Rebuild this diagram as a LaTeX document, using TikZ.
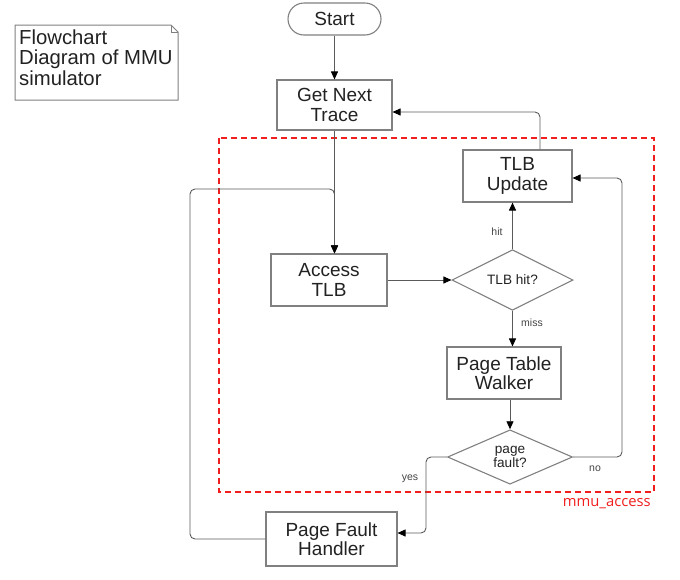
\documentclass[tikz,border=0pt]{standalone}
\usepackage{fontspec}
\setmainfont{Liberation Sans}
\newfontfamily\mmufont{Open Sans}
\usetikzlibrary{shapes.geometric,arrows.meta,calc}
\definecolor{boxgray}{HTML}{808080}
\definecolor{linegray}{HTML}{5A5A5A}
\definecolor{textdark}{HTML}{222222}
\definecolor{lblgray}{HTML}{444444}
\definecolor{mmured}{HTML}{F01E1E}
\begin{document}
\begin{tikzpicture}[x=1pt,y=-1pt,
  box/.style={draw=boxgray, line width=1.1pt, fill=white, align=center, inner sep=0pt,
    text=textdark, font=\fontsize{19}{19.5}\selectfont},
  dia/.style={draw=boxgray, line width=1.1pt, fill=white, diamond, align=center, inner sep=0pt,
    text=textdark, font=\fontsize{13.6}{12}\selectfont},
  conn/.style={draw=linegray, line width=0.9pt, rounded corners=5pt, -{Triangle[length=8pt,width=7pt,color=black]}},
  lbl/.style={text=lblgray, font=\fontsize{10.5}{12}\selectfont, inner sep=0pt}
]
\useasboundingbox (0,0) rectangle (680,579);

% note
\draw[boxgray, line width=1pt, fill=white] (15,25) -- (171,25) -- (178,32) -- (178,100) -- (15,100) -- cycle;
\draw[boxgray, line width=0.8pt] (171,25) -- (171,32) -- (178,32);
\node[anchor=west, align=left, text=textdark, font=\fontsize{20.3}{20.5}\selectfont, inner sep=0pt] (note) at (19,57.5)
  {Flowchart\\Diagram of MMU\\simulator};

% red dashed region
\draw[mmured, line width=1.4pt, dash pattern=on 6pt off 4pt] (219,138) rectangle (654,492);
\node[anchor=east, text=mmured, font=\mmufont\fontsize{14.8}{15}\selectfont, inner sep=0pt] (mmu) at (651,503.5) {mmu\_access};

% nodes
\node[box, rounded corners=16pt, minimum width=93pt, minimum height=32pt] (start) at (334.5,19) {Start};
\node[box, minimum width=115pt, minimum height=50pt] (gnt) at (334.5,105) {Get Next\\Trace};
\node[box, minimum width=109pt, minimum height=52pt] (tlbu) at (517.5,176) {TLB\\Update};
\node[box, minimum width=116pt, minimum height=52pt] (acc) at (329,280) {Access\\TLB};
\node[dia, minimum width=121pt, minimum height=49pt] (hit) at (512.5,280) {TLB hit?};
\node[box, minimum width=114pt, minimum height=52pt] (ptw) at (504,373) {Page Table\\Walker};
\node[dia, minimum width=125pt, minimum height=54pt] (pf) at (510,457) {page\\fault?};
\node[box, minimum width=131pt, minimum height=54pt] (pfh) at (331.5,539) {Page Fault\\Handler};

\coordinate (upr) at (540,112);
\coordinate (nor) at (622,178);
\coordinate (yesx) at (426,533);
\coordinate (lft) at (190,189);

% connectors
\draw[conn] (start) -- (gnt);
\draw[conn] (gnt.south) -- (gnt.south |- acc.north);
\draw[conn] (acc.east) -- (hit.west);
\draw[conn] (hit.north) -- (hit.north |- tlbu.south);
\draw[conn] (hit.south) -- (hit.south |- ptw.north);
\draw[conn] (pf.north |- ptw.south) -- (pf.north);
\draw[conn] (tlbu.north -| upr) |- (upr -| gnt.east);
\draw[conn] (pf.east) -| (nor) -- (nor -| tlbu.east);
\draw[conn] (pf.west) -| (yesx) -- (yesx -| pfh.east);
\draw[conn] (pfh.west) -| (lft) -| (gnt.south |- acc.north);

% labels
\node[lbl] (lhit) at (497,232) {hit};
\node[lbl] (lmiss) at (532,323) {miss};
\node[lbl] (lno) at (595,469) {no};
\node[lbl] (lyes) at (410,479) {yes};
\end{tikzpicture}
\end{document}
